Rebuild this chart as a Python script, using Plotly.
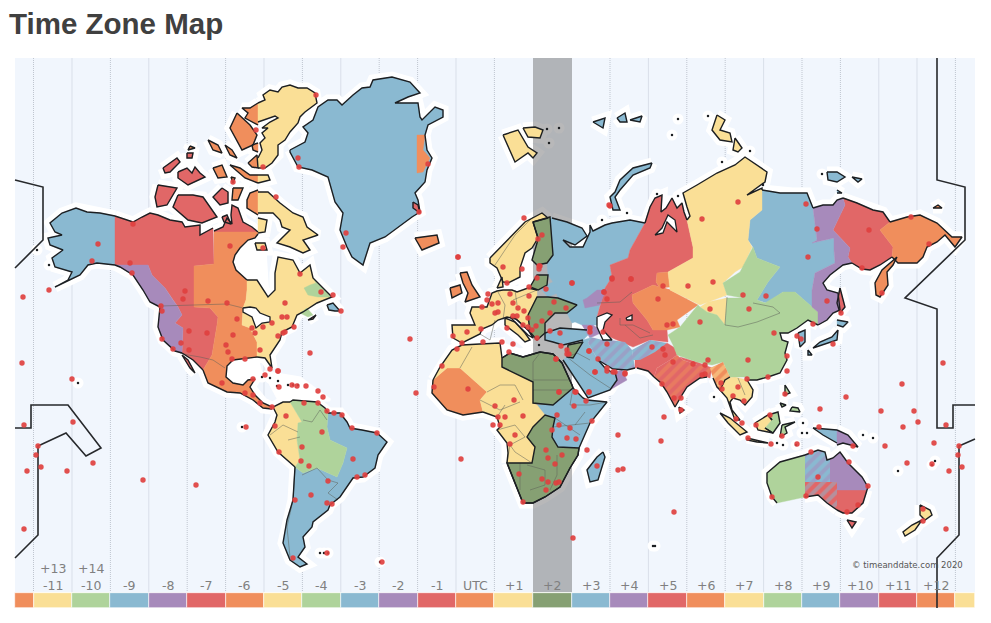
import plotly.graph_objects as go

ORANGE = "#f08e5c"
YELLOW = "#fadf96"
GREEN = "#afd39b"
BLUE = "#8ab9d1"
PURPLE = "#a78abb"
RED = "#e16767"
DARK = "#86a073"

zone_labels = ["-11", "-10", "-9", "-8", "-7", "-6", "-5", "-4", "-3", "-2", "-1", "UTC", "+1", "+2", "+3",
               "+4", "+5", "+6", "+7", "+8", "+9", "+10", "+11", "+12"]
upper_labels = ["+13", "+14"]
strip_colours = [ORANGE, YELLOW, GREEN, BLUE, PURPLE, RED, ORANGE, YELLOW, GREEN, BLUE, PURPLE, RED, ORANGE, YELLOW,
                 DARK, BLUE, PURPLE, RED, ORANGE, YELLOW, GREEN, BLUE, PURPLE, RED, ORANGE, YELLOW]
strip_edges = [15, 33.5, 72, 110.4, 148.8, 187.2, 225.6, 264, 302.4, 340.8, 379.2, 417.6, 456, 494.4, 532.8, 571.5,
               610, 648.4, 686.8, 725.2, 763.6, 802, 840.4, 878.8, 917, 955.4, 975]
grid_solid = [72, 148.8, 264, 340.8, 456, 648.4, 763.6, 878.8, 917]
grid_dotted = [33.5, 110.4, 187.2, 225.6, 302.4, 379.2, 417.6, 494.4, 610, 686.8, 725.2, 802, 840.4, 955.4]

# coastlines and zone limits, in map units
c_alaska = [(115,216),(100,213),(87,212),(76,208),(62,213),(50,223),(55,232),(62,235),(48,238),(50,245),(63,250),(52,258),(55,267),(72,272),(68,280),(55,287),(80,275),(88,265),(97,263),(115,265)]
c_nw_top = [(115,216),(133,222),(142,217),(150,213),(158,215),(170,220),(182,222),(185,227),(200,225),(200,235),(213,228)]
c_boothia = [(214,231),(223,227),(227,218),(232,224),(231,215),(232,205),(238,208),(243,222),(252,227),(258,232)]
c_hudson_w = [(258,234),(255,238),(248,240),(240,248),(235,255),(233,262),(236,270),(247,280)]
c_east = [(247,280),(257,280),(268,297),(275,290),(275,273),(278,257),(293,260),(300,273),(310,265),(313,278),(332,297),(317,303),(303,312),(297,315),(292,327),(282,332),(280,340),(270,355),(272,368),(265,358),(257,357)]
c_gulf = [(257,357),(247,358),(233,360),(227,366),(226,377),(233,383),(243,385),(248,380),(255,379),(250,387),(255,395),(263,403),(272,407)]
c_mex_pac = [(272,409),(263,408),(253,400),(240,393),(227,392),(208,383),(203,370)]
c_sonora = [(203,370),(193,360),(182,353)]
c_panhandle = [(115,265),(120,267),(133,275),(143,290),(150,302),(160,307),(158,327),(163,340),(175,351),(182,353)]
i_central_n = [(214,232),(258,232)]
i_central_e = [(257,342),(250,328),(242,325),(243,308),(246,300),(247,290),(247,280)]
i_central_w = [(212,355),(217,325),(218,317),(210,308),(194,307),(194,266),(214,264)]
i_pacific = [(183,328),(175,323),(182,315),(178,307),(173,300),(165,288),(152,275),(148,265),(120,267),(115,265)]

c_sa_nw = [(295,467),(278,452),(268,435),(275,422),(277,415),(273,407),(283,402),(290,402)]
c_sa_n = [(290,402),(293,400),(317,402),(325,408),(328,413)]
c_sa_e = [(328,413),(340,413),(347,422),(350,428),(362,430),(377,433),(387,442),(378,455),(375,468),(363,477),(353,478),(340,497),(330,505),(328,510),(313,522),(312,527),(303,537),(305,547),(298,557),(307,564),(300,567),(290,560),(283,543),(287,520),(293,500),(295,467)]
i_sa_west = [(302,422),(298,423),(297,440),(300,460),(295,467)]
i_sa_east = [(303,473),(317,468),(337,477),(343,463),(347,448),(330,440),(327,427),(328,413)]

c_af_nw = [(433,380),(440,367),(452,350),(462,345),(480,344),(500,343),(502,358)]
c_af_gulf = [(507,463),(508,453),(507,443),(497,430),(500,427),(497,417),(483,412)]
c_af_west = [(483,412),(463,415),(447,410),(432,393),(433,380)]
c_af_ne = [(502,358),(510,353),(523,357),(540,352),(553,354),(562,363),(572,385),(573,388)]
c_af_horn = [(573,388),(583,398),(587,400),(607,402),(590,423),(579,448)]
c_af_se = [(579,448),(578,455),(570,468),(560,487),(545,497),(533,503),(523,503),(507,463)]
i_af_wz = [(480,400),(487,392),(460,368),(447,368),(433,380)]
i_af_ne = [(553,405),(533,403),(533,382),(502,367),(502,358)]
i_af_mid = [(502,367),(533,382),(533,403),(537,405),(545,415),(533,427),(527,437),(535,447),(532,463),(507,463)]
i_af_rift = [(558,447),(552,437),(553,427),(555,418),(545,415),(537,405),(553,405),(573,388)]
i_af_south = [(532,463),(535,447),(527,437),(533,427),(545,415),(555,418),(553,427),(552,437),(558,447)]

c_eu_n = [(453,338),(452,325),(475,325),(470,313),(472,307),(487,307),(492,293),(497,291),(503,290),(512,290),(517,292),(528,288),(537,290)]
c_eu_s = [(533,338),(528,330),(516,319),(507,317),(498,320),(492,325),(482,329),(480,334),(462,343),(453,338)]
i_eu = [(537,297),(528,315),(530,332),(533,338)]
c_ru_w = [(552,218),(567,222),(582,228),(587,236),(575,245),(563,240),(570,247),(583,247),(590,232),(590,225),(593,231),(605,225),(612,223),(630,220),(645,223)]
i_ru_w = [(630,250),(628,258),(610,265),(612,277),(605,288),(600,305),(597,317),(597,325),(590,325),(582,325),(575,322),(572,323),(567,313),(577,305),(558,298),(553,282),(548,275),(547,263),(553,255),(550,217),(552,218)]
c_ural = [(645,223),(650,207),(655,198),(662,195),(661,212),(666,208),(672,198),(677,208),(682,203),(684,212),(687,220)]
i_ural = [(693,247),(693,258),(668,272),(657,273),(656,282),(660,288),(670,290),(653,285),(632,295),(633,303),(647,320),(653,330),(667,330),(668,342),(650,340),(633,347),(622,342),(610,337),(603,330),(605,322),(612,315),(607,313),(597,317),(600,305),(605,288),(612,277),(610,265),(628,258),(630,250),(645,223)]
c_krasno = [(687,220),(690,216),(687,207),(683,193),(697,185),(717,173),(735,165),(745,157),(767,172),(765,182),(747,195),(762,188),(762,190)]
i_krasno = [(762,210),(750,220),(748,240),(752,247),(743,267),(735,272),(723,283),(727,295),(700,305),(670,290),(668,272),(693,258),(693,247)]
c_yakut = [(762,190),(780,193),(792,193),(807,193),(813,208)]
i_yakut = [(817,240),(812,243),(834,238),(834,250),(835,263),(815,273),(812,290),(812,307),(795,292),(783,292),(767,303),(757,300),(768,282),(780,267),(757,258),(753,247),(748,240),(750,220),(762,210)]
c_amur_n = [(813,208),(823,205),(833,205),(837,200),(843,198)]
i_amur = [(845,205),(833,230),(850,248),(848,257),(852,263)]
c_amur_s = [(852,263),(843,265),(830,275),(823,283),(827,290),(838,293),(840,310),(833,313),(827,320),(818,325)]
i_amur_s = [(818,312),(812,307),(812,290),(815,273),(835,263),(834,250),(834,238),(812,243),(817,240),(813,208)]
c_mag_n = [(843,198),(857,203),(873,210),(883,212),(890,222)]
c_mag_s = [(892,257),(880,265),(870,270),(862,269),(852,263)]
c_chuk_n = [(890,222),(907,217),(920,215),(937,223),(952,237),(962,237),(955,247),(945,235),(937,242),(927,247),(923,257),(917,263),(898,263),(892,257)]
c_china_e = [(818,325),(808,320),(797,328),(788,333),(780,333),(782,340),(788,342),(785,353),(787,360),(780,373),(768,377),(757,380),(747,380)]
i_china_n = [(745,377),(730,377),(723,362),(712,365),(697,362),(677,355),(673,345),(668,335),(680,327),(698,305),(700,307),(707,312),(717,315),(725,325),(727,298),(743,298),(755,303),(765,303),(783,292),(795,292),(812,307),(818,312)]
c_arabia = [(563,360),(588,398),(610,390),(617,380),(615,372),(613,373),(605,368),(598,360)]
i_arabia = [(588,343),(590,338),(583,340),(573,358),(567,357),(563,360)]
c_iran = [(598,360),(613,369),(627,370),(635,368)]
i_iran = [(632,350),(625,342),(610,340),(603,340),(590,337),(588,343),(598,360)]
c_pak = [(637,368),(648,371),(654,377)]
i_pak = [(657,368),(670,360),(677,355),(675,348),(667,343),(635,360),(635,368)]
c_india = [(654,377),(661,383),(667,392),(675,407),(682,395),(687,387),(700,378),(707,377)]
i_india = [(712,368),(697,365),(683,360),(677,355),(670,360),(657,368),(654,377)]
c_burma = [(713,378),(717,387),(720,390),(725,380),(730,377)]
i_burma = [(723,362),(710,368)]
c_siam = [(747,380),(753,390),(752,397),(745,405),(740,400),(733,398),(730,402),(732,410),(740,420),(735,420),(727,398),(720,390)]
i_siam = [(723,378),(735,377),(747,380)]
c_turkey = [(587,330),(560,328),(545,333),(545,340),(553,342),(563,345),(583,340)]
c_aus_w = [(805,455),(798,457),(780,462),(767,473),(767,483),(772,497),(777,503),(805,497)]
c_aus_nt = [(805,455),(818,450),(825,452),(827,460),(830,459)]
c_aus_q = [(830,459),(833,458),(840,452),(848,463),(862,477),(868,487),(867,490)]
c_aus_nsw = [(867,490),(863,503),(852,513),(843,513),(837,510)]
c_aus_sa = [(837,510),(833,507),(827,503),(818,495),(807,497),(805,497)]

# islands, each one a closed ring
isl_yellow = [
    [(258,103),(265,100),(263,95),(270,90),(278,92),(282,87),(290,85),(298,88),(307,88),(315,93),(317,103),(305,112),(300,117),(298,123),(290,132),(285,140),(278,145),(278,155),(272,163),(265,168),(258,168),(258,158),(262,150),(260,143),(265,138),(262,133),(268,128),(262,128),(270,122),(278,118),(275,116),(258,122)],
    [(258,192),(268,192),(280,203),(293,213),(303,217),(307,227),(318,235),(303,240),(310,250),(303,253),(290,247),(277,243),(290,230),(282,227),(280,220),(273,213),(265,213),(258,213)],
    [(258,218),(267,220),(265,232),(258,233)], [(255,243),(265,243),(267,250),(257,250)], [(258,175),(268,175),(270,180),(258,183)],
    [(490,258),(512,235),(525,222),(542,213),(548,218),(533,222),(538,238),(532,248),(525,253),(520,268),(520,277),(508,283),(503,282),(497,268),(490,263)],
    [(497,288),(502,277),(503,287)], [(505,318),(515,322),(525,333),(530,340),(525,342),(518,335),(505,325)],
    [(503,135),(518,130),(528,147),(537,153),(533,158),(528,153),(515,162),(508,147)], [(523,128),(535,127),(543,130),(540,138),(528,137)],
    [(717,115),(725,120),(720,130),(730,133),(732,142),(720,140),(712,130)], [(735,138),(742,148),(738,152),(733,150)],
    [(720,413),(730,418),(747,432),(740,435),(728,423)], [(747,438),(768,443),(757,442),(747,440)],
    [(755,423),(768,415),(772,420),(765,428),(773,433),(758,430)],
    [(920,505),(930,510),(932,515),(925,520),(920,515)], [(922,520),(915,530),(905,536),(903,532),(912,525)],
    [(700,307),(708,302),(727,298),(725,325),(717,315),(707,312)],
]
isl_orange = [
    [(258,103),(250,108),(242,108),(248,113),(245,118),(258,125)], [(237,113),(250,125),(257,135),(253,145),(242,150),(235,137),(230,128)],
    [(258,190),(250,193),(247,200),(247,208),(258,215)], [(230,165),(240,168),(250,175),(258,175),(258,183),(245,178)],
    [(233,188),(243,188),(238,200),(232,200)], [(208,140),(218,145),(222,153),(213,150)], [(225,145),(232,150),(237,158),(230,155)],
    [(213,168),(222,165),(227,177),(218,178)], [(231,177),(235,178),(233,183)], [(248,163),(257,155),(258,168),(252,167)],
    [(252,145),(258,143),(258,152),(253,150)], [(190,146),(195,148),(188,150)], [(415,238),(437,235),(439,243),(422,250)],
    [(460,273),(467,272),(472,285),(480,297),(465,302),(468,293),(463,283)], [(450,288),(460,285),(462,293),(452,298)],
    [(897,257),(893,265),(887,272),(888,285),(880,297),(876,295),(875,283),(882,270)], [(933,208),(938,205),(942,208)],
]
isl_red = [
    [(158,185),(177,188),(167,205),(157,207),(155,197)], [(178,195),(193,195),(203,197),(217,217),(202,223),(188,220),(173,207)],
    [(222,188),(228,192),(228,203),(220,205),(213,197)], [(222,217),(227,215),(231,224),(224,222)], [(163,168),(177,158),(180,162),(170,172),(165,173)],
    [(178,172),(187,168),(192,173),(195,167),(200,173),(205,177),(188,185),(178,178)], [(187,153),(193,153),(192,158),(187,158)], [(308,320),(316,315),(313,319)],
    [(182,355),(188,360),(195,373),(190,368)], [(840,288),(845,307),(840,313),(837,303)], [(847,520),(856,522),(852,528)],
    [(679,407),(684,410),(680,413)], [(413,202),(418,205),(420,213),(413,208)],
]
isl_blue = [
    [(290,150),(305,142),(308,133),(303,127),(313,120),(318,107),(328,100),(337,100),(342,105),(353,95),(362,88),(370,87),(373,80),(392,77),(410,82),(420,93),(408,97),(395,103),(418,103),(420,117),(422,120),(435,107),(443,110),(443,117),(428,125),(425,135),(427,150),(432,158),(427,170),(425,182),(415,193),(418,200),(420,212),(412,217),(385,237),(370,243),(363,265),(352,257),(347,247),(340,230),(343,213),(335,202),(328,177),(312,170),(298,167),(290,152)],
    [(327,305),(333,303),(340,311),(335,311),(329,310)], [(603,452),(605,457),(598,480),(590,482),(587,470),(597,457)],
    [(652,163),(650,168),(633,175),(620,190),(615,197),(620,210),(613,210),(610,197),(615,192),(620,180),(633,168)],
    [(593,122),(605,118),(603,128)], [(617,118),(625,113),(627,122),(620,122)], [(630,120),(642,116),(640,122)],
    [(827,172),(837,172),(845,177),(837,182),(828,180)], [(852,177),(862,179),(858,182)], [(837,190),(842,193),(837,193)],
    [(837,320),(848,322),(843,327),(837,325)], [(838,330),(837,340),(813,348),(820,342),(832,337)],
    [(798,333),(805,330),(805,342),(800,347)], [(808,350),(812,355),(808,355)], [(813,428),(837,430),(837,443),(823,435)],
]
isl_green = [
    [(768,415),(778,412),(780,423),(773,433),(765,428),(772,420)], [(782,425),(795,422),(785,427),(787,433),(780,437)],
    [(785,385),(790,393),(785,395)], [(792,407),(798,408),(800,412),(790,411)], [(780,403),(786,405),(782,407)],
    [(300,313),(307,308),(313,315),(308,317)],
]
isl_purple = [[(837,430),(848,435),(858,447),(843,443),(837,445)], [(583,300),(587,298),(597,290),(607,290),(603,297),(600,305),(585,308)],
              [(582,325),(593,325),(603,332),(590,338)], [(610,390),(627,380),(622,370),(615,372),(617,380)]]
isl_dark = [[(533,222),(548,218),(550,217),(553,255),(547,263),(537,265),(532,260),(537,243),(538,238)],
            [(530,287),(537,275),(548,275),(547,285),(538,290)],
            [(528,315),(537,297),(548,297),(558,298),(577,305),(567,313),(555,313),(545,323),(545,333),(537,340),(530,332)],
            [(568,345),(583,342),(573,358),(567,357)]]
inland_blue = [[(540,288),(547,285),(553,282),(560,292),(548,297)], [(545,333),(560,328),(587,330),(590,333),(583,340),(563,345),(553,342),(545,340)]]
inland_orange = [[(632,295),(653,285),(670,290),(698,305),(677,320),(680,327),(667,330),(653,330),(647,320),(633,303)],
                 [(657,273),(668,272),(670,287),(660,288),(656,282)], [(452,328),(458,328),(457,338),(453,338)],
                 [(417,135),(425,135),(423,150),(430,158),(423,172),(417,173)]]
inland_green = [[(304,288),(310,285),(316,283),(313,278),(332,297),(318,297),(308,295)],
                [(753,247),(757,258),(780,267),(768,282),(757,300),(765,303),(755,303),(743,298),(727,295),(723,283),(740,272),(750,253)]]
inland_red = [[(680,357),(697,362),(712,368),(710,378),(707,377),(700,378),(697,365),(683,360)]]
outlined_lakes = [[(243,308),(250,307),(256,308),(260,313),(270,317),(270,322),(262,323),(256,328),(252,317),(243,312)],
                  [(597,317),(607,313),(612,315),(605,322),(603,330),(612,340),(603,340),(597,327)],
                  [(626,318),(632,315),(632,320),(627,320)],
                  [(655,235),(663,233),(667,222),(677,232),(675,220),(668,215),(662,228)],
                  [(510,317),(516,319),(530,332),(533,338),(528,335)]]
white_water = [[(233,262),(247,242),(258,238),(265,250),(268,297),(250,280)],
               [(233,362),(257,357),(262,378),(248,380),(228,378)], [(264,372),(300,378),(330,400),(280,402)],
               [(465,345),(500,343),(520,350),(560,340),(565,360),(540,352),(505,358),(500,345)],
               [(553,317),(570,316),(583,320),(585,328),(560,327),(548,330)],
               [(520,267),(537,240),(540,262),(535,280),(520,286)],
               [(563,360),(573,358),(590,398),(585,400)], [(598,360),(615,372),(605,368)]]
# meridians where a zone limit cuts an island, and one slanted cut on Borneo: no coast along these
cut_meridians = [258, 837]
cut_edges = [((772,420),(765,428)), ((765,428),(772,420))]
# the map's black date line
dateline_a = [(15,180),(43,187),(43,240),(15,268)]
dateline_b = [(15,428),(31,428),(31,405),(68,405),(101,448),(86,456),(66,433),(38,446),(38,535),(15,558)]
dateline_c = [(937,58),(937,180),(965,187),(965,240),(905,298),(937,309),(937,428),(953,428),(953,405),(975,405)]
dateline_d = [(975,439),(959,446),(959,535),(937,558),(937,608)]
country_lines = [
    [(161,306),(227,304),(243,308)], [(180,353),(188,355),(200,357),(213,360),(225,368)],
    [(270,435),(283,425),(298,432)], [(288,440),(300,437)], [(295,467),(293,500),(287,527),(290,557)],
    [(302,475),(317,468),(328,480),(338,483),(328,493),(338,500)], [(303,420),(312,422),(320,410),(327,420)],
    [(460,368),(472,347)], [(487,392),(500,385),(515,385),(523,400)], [(480,400),(500,410),(520,402)],
    [(497,417),(505,405)], [(497,430),(515,425),(525,437),(510,445),(507,463)], [(532,463),(515,452),(510,445)],
    [(520,463),(520,490)], [(527,465),(545,470),(545,485),(530,490)], [(557,455),(557,475),(550,490)],
    [(555,418),(580,435)], [(553,427),(575,425),(590,423)], [(573,388),(570,405),(590,405),(607,402)],
    [(575,425),(585,412)], [(533,390),(570,390)], [(540,353),(533,362),(533,382)], [(533,380),(570,380)],
    [(498,292),(505,305),(503,320)], [(515,290),(517,305)], [(537,290),(513,300)], [(495,265),(515,235),(533,217)],
    [(597,303),(620,302),(632,292)], [(620,318),(620,325),(633,325),(650,333)], [(625,325),(640,338),(653,335)],
    [(727,297),(725,325),(738,327),(757,322),(780,313),(773,307),(753,303)], [(567,357),(577,353),(590,360)],
    [(567,357),(590,375),(610,388)], [(738,378),(745,395)], [(480,334),(490,340),(495,320)],
]
specks = [(37,250),(49,265),(78,383),(320,553),(324,553),(328,553),(380,562),(549,143),(559,128),(547,129),(678,119),(708,116),(672,135),(750,151),(722,162),(822,174),(602,220),(657,194),(678,196),(627,213),(763,185),(714,397),(803,423),(807,433),(802,433),(777,443),(783,445),(796,445),(863,435),(873,438),(898,471),(935,461),(932,465),(653,546),(655,546),(539,345),(288,385),(293,385),(298,385),(277,386),(242,427),(262,377),(270,378),(278,381)]
dot_x = [316,256,263,233,298,299,428,419,346,343,458,410,276,263,300,133,98,92,130,132,230,49,23,185,183,208,227,161,162,237,189,207,233,226,228,232,245,255,260,252,263,272,282,287,294,285,283,278,285,321,333,341,310,270,278,162,181,189,173,222,253,245,253,260,272,265,278,279,292,297,306,318,323,318,304,327,334,342,286,275,322,352,377,302,279,301,309,353,357,365,328,311,295,327,332,293,327,382,246,22,72,24,73,38,36,41,27,67,93,143,196,24,416,461,610,458,542,538,524,503,522,539,539,507,537,546,529,572,612,631,604,607,510,529,488,487,492,498,513,482,518,524,495,498,513,517,528,523,554,566,550,542,536,528,532,537,550,560,590,590,603,507,467,453,481,483,502,513,509,462,457,442,468,434,561,567,569,567,556,589,607,598,607,613,625,595,559,576,589,609,702,738,806,911,817,869,929,808,862,882,841,827,766,743,749,713,688,663,658,631,612,604,572,540,700,667,673,710,774,813,797,801,833,748,787,787,768,747,738,733,744,721,722,708,705,693,705,702,662,673,665,663,652,589,595,607,615,625,556,559,575,589,586,574,557,559,570,552,567,576,592,587,597,618,661,664,674,681,681,618,623,674,573,546,548,555,562,542,548,556,559,546,519,523,510,515,500,493,505,498,523,514,495,742,736,756,770,782,748,771,797,785,846,820,881,902,914,918,903,819,885,853,849,811,868,818,806,772,858,847,934,959,958,962,949,932,907,943,946,923,923,946]
dot_y = [95,130,167,182,158,167,164,212,233,247,257,339,197,248,274,224,244,261,263,273,246,290,297,291,299,301,303,306,311,319,331,333,335,345,352,359,359,333,350,328,327,323,317,317,327,332,333,336,303,292,295,311,353,369,371,339,343,350,349,383,379,393,395,403,407,375,371,387,385,386,386,391,397,403,403,411,413,415,416,426,432,428,433,447,452,461,466,459,477,475,481,495,500,503,504,558,553,562,427,363,379,425,422,446,455,467,471,471,463,480,485,529,393,459,206,257,235,239,218,267,269,266,269,283,278,289,287,283,279,279,292,299,294,296,294,300,304,303,303,307,308,311,313,312,316,316,318,325,302,308,313,321,326,327,330,338,331,333,328,332,332,328,332,336,329,342,342,344,352,343,349,366,389,387,346,350,354,354,359,351,344,359,371,372,373,372,392,392,392,205,219,202,204,217,229,230,244,257,268,293,313,301,296,295,309,282,286,286,299,279,278,292,283,266,322,325,324,309,333,324,336,339,344,360,356,371,377,379,387,396,401,383,389,360,365,364,374,375,384,362,355,349,347,351,372,368,372,374,359,392,392,392,401,406,415,425,428,430,438,439,421,450,466,435,441,417,398,398,410,470,469,512,538,450,458,464,455,479,482,483,482,490,474,502,444,435,425,425,417,417,416,400,406,423,419,425,415,436,438,444,444,394,397,409,411,384,411,422,427,427,446,446,462,452,486,477,496,497,505,512,443,446,455,467,471,464,463,363,425,509,521,529]


def ring(pts):
    return pts + pts[:1]


def path(rings):
    # many rings in one trace, cut apart by gaps
    xs, ys = [], []
    for r in rings:
        xs += [p[0] for p in r] + [None]
        ys += [p[1] for p in r] + [None]
    return xs, ys


def without_cuts(line):
    # breaks a coast wherever it runs along a zone limit
    pieces, piece = [], [line[0]]
    for a, b in zip(line[:-1], line[1:]):
        if (a[0] == b[0] and a[0] in cut_meridians) or (a, b) in cut_edges:
            pieces.append(piece)
            piece = [b]
        else:
            piece.append(b)
    pieces.append(piece)
    return pieces


zones_by_colour = {
    BLUE: [c_alaska, c_sa_e + i_sa_east, c_af_horn + i_af_rift, c_ru_w + i_ru_w, c_krasno[-1:] + c_yakut + i_yakut,
           c_arabia + i_arabia] + isl_blue + inland_blue,
    RED: [c_nw_top + i_central_w[::-1] + [(203,370)] + c_sonora + i_pacific, c_boothia + [(214,232)],
          c_ural + i_ural, c_pak + i_pak, c_mag_n + [(880,230),(893,247)] + c_mag_s + i_amur[::-1],
          c_aus_nsw + [(837,490)]] + isl_red + inland_red,
    ORANGE: [i_central_n + c_hudson_w + i_central_e[::-1] + c_gulf + c_mex_pac + i_central_w,
             c_af_west + i_af_wz[::-1], c_chuk_n + [(893,247),(880,230)]] + isl_orange + inland_orange,
    YELLOW: [c_east + i_central_e, c_sa_nw + i_sa_west, c_af_nw + i_af_mid + c_af_gulf + i_af_wz, c_eu_n + i_eu + c_eu_s,
             c_krasno + i_krasno, c_siam + i_siam] + isl_yellow,
    GREEN: [c_sa_n + i_sa_east[::-1] + i_sa_west[::-1], c_aus_w, c_china_e + i_china_n] + isl_green + inland_green,
    PURPLE: [c_panhandle + i_pacific[:-2], c_amur_n + i_amur + c_amur_s + i_amur_s, c_aus_q + [(837,490),(837,482),(830,482)]] + isl_purple,
    DARK: [c_af_ne + i_af_ne, c_af_se + i_af_south] + isl_dark,
}

hatched = [
    (c_iran + i_iran, BLUE, PURPLE),
    ([(632,350),(650,340),(667,343),(655,352),(640,360),(633,360)], BLUE, PURPLE),
    (c_india + i_india, RED, ORANGE),
    (c_burma + i_burma + [(710,368),(713,378)], ORANGE, YELLOW),
    (c_aus_nt + [(830,482),(805,482)], BLUE, PURPLE),
    ([(805,482),(837,482)] + c_aus_sa, RED, BLUE),
]

coast_open = [c_alaska, c_nw_top, c_boothia, c_hudson_w, c_east, c_gulf, c_mex_pac, c_sonora, c_panhandle, c_sa_nw, c_sa_n, c_sa_e,
              c_af_nw, c_af_gulf, c_af_west, c_af_ne, c_af_horn, c_af_se, c_eu_n, c_eu_s, c_ru_w, c_ural, c_krasno, c_yakut,
              c_amur_n, c_amur_s, c_mag_n, c_mag_s, c_chuk_n, c_china_e, c_arabia, c_iran, c_pak, c_india, c_burma, c_siam,
              c_turkey, c_aus_w[:-1], c_aus_nt, c_aus_q, c_aus_nsw, c_aus_sa]
coast_islands = [ring(r) for group in (isl_yellow[:17], isl_orange, isl_red, isl_blue, isl_green[:5], isl_purple[:1]) for r in group]
coast_all = [piece for line in coast_open + coast_islands for piece in without_cuts(line)]
dark_rings = [ring(r) for r in zones_by_colour[DARK]]

fig = go.Figure()

# strip along the bottom
strip_x = [(a + b) / 2 for a, b in zip(strip_edges[:-1], strip_edges[1:])]
strip_w = [b - a for a, b in zip(strip_edges[:-1], strip_edges[1:])]
fig.add_trace(go.Bar(x=strip_x, y=[15.5] * len(strip_x), base=592.5, width=strip_w,
                     marker=dict(color=strip_colours, line=dict(color="white", width=0.6))))

# hour grid
x, y = path([[(g, 58), (g, 592)] for g in grid_solid])
fig.add_trace(go.Scatter(x=x, y=y, mode="lines", line=dict(color="#d9dfe9", width=1)))
x, y = path([[(g, 58), (g, 592)] for g in grid_dotted])
fig.add_trace(go.Scatter(x=x, y=y, mode="lines", line=dict(color="#bfc5cf", width=1, dash="1px,1px")))

# white halo and the closed seas
x, y = path([ring(r) for r in white_water])
fig.add_trace(go.Scatter(x=x, y=y, mode="lines", fill="toself", fillcolor="white", line=dict(color="white", width=3)))
x, y = path(coast_all)
fig.add_trace(go.Scatter(x=x, y=y, mode="lines", line=dict(color="white", width=11)))
fig.add_trace(go.Scatter(x=[p[0] for p in specks], y=[p[1] for p in specks], mode="markers",
                         marker=dict(color="white", size=11)))

# the highlighted zone sits on the halo but under the land
fig.add_trace(go.Scatter(x=[533, 572, 572, 533, 533], y=[58, 58, 592, 592, 58], mode="lines", fill="toself",
                         fillcolor="rgba(113,114,115,0.5)", line=dict(width=0)))

for colour, rings in zones_by_colour.items():
    x, y = path([ring(r) for r in rings])
    fig.add_trace(go.Scatter(x=x, y=y, mode="lines", fill="toself", fillcolor=colour,
                             line=dict(color=colour, width=0.4)))

for pts, back, fore in hatched:
    x, y = path([ring(pts)])
    fig.add_trace(go.Scatter(x=x, y=y, mode="lines", fill="toself", line=dict(width=0),
                             fillpattern=dict(shape="/", bgcolor=back, fgcolor=fore, size=8, solidity=0.5)))

x, y = path(country_lines)
fig.add_trace(go.Scatter(x=x, y=y, mode="lines", line=dict(color="#5c6058", width=0.5)))

x, y = path([ring(r) for r in outlined_lakes])
fig.add_trace(go.Scatter(x=x, y=y, mode="lines", fill="toself", fillcolor="white", line=dict(color="#1c1f22", width=1.3)))
x, y = path(coast_all + dark_rings)
fig.add_trace(go.Scatter(x=x, y=y, mode="lines", line=dict(color="#1c1f22", width=1.4)))
fig.add_trace(go.Scatter(x=[p[0] for p in specks], y=[p[1] for p in specks], mode="markers",
                         marker=dict(color="#1c1f22", size=2.5)))

x, y = path([dateline_a, dateline_b, dateline_c, dateline_d])
fig.add_trace(go.Scatter(x=x, y=y, mode="lines", line=dict(color="#26282b", width=1.6)))

fig.add_trace(go.Scatter(x=dot_x, y=dot_y, mode="markers", marker=dict(color="#e0403f", size=5.4, opacity=0.92)))

labels = [dict(x=strip_x[i + 1], y=585, text=t, showarrow=False, font=dict(family="DejaVu Sans", size=12.5, color="#808080"))
          for i, t in enumerate(zone_labels)]
labels += [dict(x=strip_x[i + 1], y=568, text=t, showarrow=False, font=dict(family="DejaVu Sans", size=12.5, color="#808080"))
           for i, t in enumerate(upper_labels)]
labels.append(dict(x=965, y=565, xanchor="right", text="© timeanddate.com 2020", showarrow=False,
                   font=dict(family="DejaVu Sans", size=8.5, color="#555555")))
labels.append(dict(x=9, xshift=-2, y=23, xanchor="left", text="<b>Time Zone Map</b>", showarrow=False,
                   font=dict(family="Liberation Sans", size=29.5, color="#404040")))

fig.update_layout(
    width=983, height=615, margin=dict(l=0, r=0, t=0, b=0), showlegend=False, hovermode=False, bargap=0,
    plot_bgcolor="white", paper_bgcolor="white", annotations=labels,
    xaxis=dict(range=[8, 991], visible=False, fixedrange=True),
    yaxis=dict(range=[623, 8], visible=False, fixedrange=True),
    shapes=[dict(type="rect", xref="x", yref="y", x0=15, x1=975, y0=58, y1=592, layer="below",
                 fillcolor="#f1f6fd", line=dict(width=0))],
)
fig.write_html("out.html")
